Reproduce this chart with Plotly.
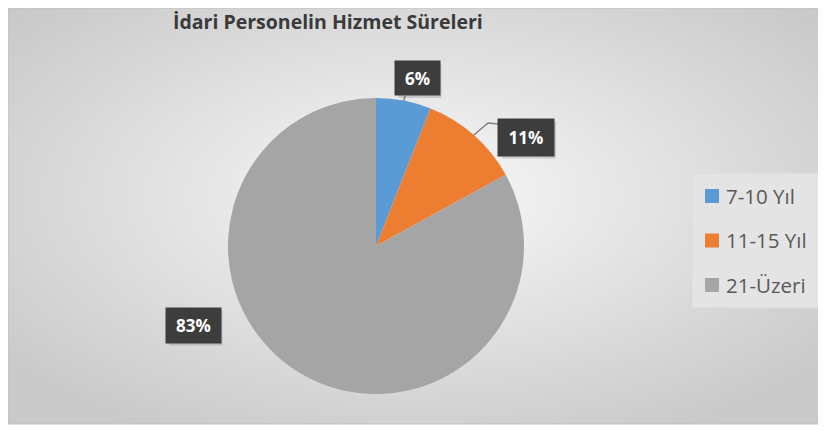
import base64
import math
import plotly.graph_objects as go

# the page puts the figure 8px in from the top-left corner
OFF = 8
W, H = 826 - OFF, 432 - OFF

labels = ["7-10 Yıl", "11-15 Yıl", "21-Üzeri"]
values = [6, 11, 83]
colors = ["#5B9BD5", "#ED7D31", "#A5A5A5"]
title = "İdari Personelin Hizmet Süreleri"

# pie geometry in window pixels (centre + radius)
cx, cy, r = 376, 246, 148
# label box centres / sizes in window pixels, and leader line points (None = no leader)
label_pos = [(417, 78), (526, 137), (193, 325)]
label_box = [(43, 34), (54, 37), (53, 35)]
leader_mid = [(405, 96), (488, 123), None]
leader_end = [None, (499, 124), None]


def px(x):
    return max(0, (x - OFF) / W)


def py(y):
    return min(1, 1 - (y - OFF) / H)


fig = go.Figure()

fig.add_trace(go.Pie(
    labels=labels, values=values, sort=False, direction="clockwise",
    marker=dict(colors=colors, line=dict(width=0)),
    textinfo="none", hoverinfo="label+percent", showlegend=False,
    domain=dict(x=[px(cx - r), px(cx + r)], y=[py(cy + r), py(cy - r)]),
))

# chart area background with a soft radial gradient
svg = ('<svg xmlns="http://www.w3.org/2000/svg" width="816" height="422">'
       '<defs><radialGradient id="g" cx="50%" cy="45%" r="65%">'
       '<stop offset="0" stop-color="#f9f9f9"/><stop offset="1" stop-color="#c9c9c9"/>'
       '</radialGradient></defs><rect width="816" height="422" fill="url(#g)"/></svg>')
src = "data:image/svg+xml;base64," + base64.b64encode(svg.encode()).decode()
fig.add_layout_image(dict(source=src, xref="paper", yref="paper", x=0, y=1,
                          sizex=px(821), sizey=1 - py(424), sizing="stretch", layer="below",
                          xanchor="left", yanchor="top"))

shapes = [dict(type="rect", xref="paper", yref="paper", x0=0, x1=px(821), y0=py(424), y1=1,
               line=dict(color="#bfbfbf", width=1), fillcolor="rgba(0,0,0,0)")]

annotations = [dict(text="<b>" + title + "</b>", xref="paper", yref="paper", x=px(171), y=py(21),
                    xanchor="left", yanchor="middle", showarrow=False,
                    font=dict(family="Open Sans", size=19.5, color="#3a3a3a"))]

total = sum(values)
cum = 0
for i, v in enumerate(values):
    theta = math.radians((cum + v / 2) / total * 360)
    cum += v
    sx, sy = cx + r * math.sin(theta), cy - r * math.cos(theta)
    if leader_mid[i] is not None:
        pts = [(sx, sy), leader_mid[i]] + ([leader_end[i]] if leader_end[i] else [])
        path = "M " + " L ".join(f"{px(a)},{py(b)}" for a, b in pts)
        shapes.append(dict(type="path", xref="paper", yref="paper", path=path,
                           line=dict(color="#7f7f7f", width=1.5)))
    lx, ly = label_pos[i]
    bw, bh = label_box[i]
    # soft shadow behind the label box
    shapes.append(dict(type="rect", xref="paper", yref="paper",
                       x0=px(lx - bw / 2 + 3), x1=px(lx + bw / 2 + 3),
                       y0=py(ly + bh / 2 + 3), y1=py(ly - bh / 2 + 3),
                       line=dict(width=0), fillcolor="rgba(80,80,80,0.22)"))
    annotations.append(dict(text="<b>" + f"{round(v / total * 100)}%" + "</b>", xref="paper", yref="paper",
                            x=px(lx), y=py(ly), xanchor="center", yanchor="middle", showarrow=False,
                            bgcolor="#3d3d3d", width=bw, height=bh - 2, borderpad=1,
                            font=dict(family="Open Sans", size=17, color="white")))

# legend drawn by hand for the wide row spacing
shapes.append(dict(type="rect", xref="paper", yref="paper", x0=px(692), x1=px(820), y0=py(308), y1=py(173),
                   line=dict(color="#d8d8d8", width=1), fillcolor="#e4e4e4"))
for i, lab in enumerate(labels):
    yc = 196 + i * 44.5
    shapes.append(dict(type="rect", xref="paper", yref="paper", x0=px(705), x1=px(719),
                       y0=py(yc + 7), y1=py(yc - 7), line=dict(width=0), fillcolor=colors[i]))
    annotations.append(dict(text=lab, xref="paper", yref="paper", x=px(724), y=py(yc), xanchor="left",
                            yanchor="middle", showarrow=False,
                            font=dict(family="Open Sans", size=20.5, color="#595959")))

fig.update_layout(width=W, height=H, margin=dict(l=0, r=0, t=0, b=0),
                  paper_bgcolor="white", plot_bgcolor="white",
                  shapes=shapes, annotations=annotations)

fig.write_html("out.html")
